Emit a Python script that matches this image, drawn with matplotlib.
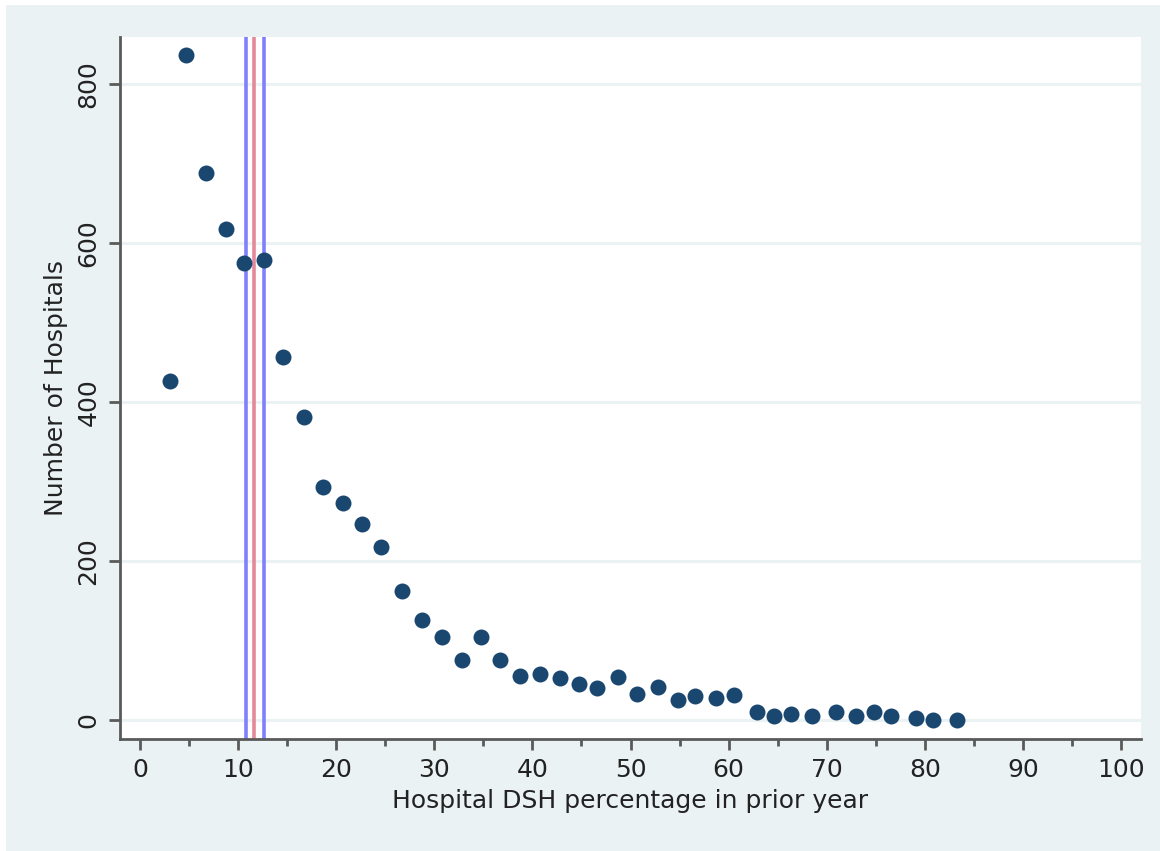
import matplotlib.pyplot as plt
from matplotlib.patches import Rectangle

# Hospitals binned by prior-year DSH percentage
dsh_pct = [3.1, 4.7, 6.7, 8.8, 10.6, 12.6, 14.6, 16.7, 18.7, 20.7,
           22.6, 24.6, 26.7, 28.7, 30.8, 32.8, 34.8, 36.7, 38.7, 40.8,
           42.8, 44.8, 46.6, 48.7, 50.7, 52.8, 54.8, 56.6, 58.7, 60.6,
           62.9, 64.6, 66.4, 68.5, 70.9, 73.0, 74.8, 76.6, 79.1, 80.8,
           83.3]
n_hosp = [426, 837, 688, 618, 575, 578, 456, 381, 293, 273,
          247, 217, 162, 126, 105, 76, 104, 76, 55, 58,
          53, 45, 40, 54, 33, 41, 25, 30, 28, 31,
          10, 5, 8, 5, 10, 5, 10, 5, 2, 0,
          0]

# reference lines: lower bound, threshold, upper bound
ref_lines = [10.8, 11.6, 12.65]
ref_colors = ['#8080ff', '#e5889a', '#8080ff']

xticks = list(range(0, 101, 10))
xminor = list(range(5, 100, 10))
yticks = [0, 200, 400, 600, 800]

BG = '#eaf2f3'
NAVY = '#1a476f'
AXC = '#5a5a5a'
FS = 18

plt.rcParams['font.family'] = ['DejaVu Sans']

fig = plt.figure(figsize=(11.6, 8.51), dpi=100, facecolor='white')
fig.patches.append(Rectangle((6 / 1160, 0), 1 - 6 / 1160, 1 - 5 / 851,
                             transform=fig.transFigure, facecolor=BG,
                             edgecolor='none', zorder=-10))

ax = fig.add_axes([120 / 1160, 1 - 739 / 851, 1021 / 1160, 702.5 / 851])
ax.set_facecolor('white')

for y in yticks:
    ax.axhline(y, color=BG, lw=2.2, zorder=0)

for x, c in zip(ref_lines, ref_colors):
    ax.axvline(x, color=c, lw=2.6, zorder=1)

ax.plot(dsh_pct, n_hosp, linestyle='none', marker='o', ms=11.5,
        mew=0, color=NAVY, zorder=3)

ax.set_xlim(-2.04, 102.04)
ax.set_ylim(-23.9, 859.7)

ax.set_xticks(xticks)
ax.set_xticks(xminor, minor=True)
ax.set_yticks(yticks)
ax.tick_params(axis='both', which='major', length=8, width=2, color=AXC,
               labelsize=FS, labelcolor='#222222', pad=6)
ax.tick_params(axis='x', which='minor', length=5, width=2, color=AXC)
ax.tick_params(axis='y', labelrotation=90)
for lbl in ax.get_yticklabels():
    lbl.set_va('center')

for side in ['top', 'right']:
    ax.spines[side].set_visible(False)
for side in ['left', 'bottom']:
    ax.spines[side].set_color(AXC)
    ax.spines[side].set_linewidth(2)

ax.set_xlabel('Hospital DSH percentage in prior year', fontsize=FS,
              color='#222222')
ax.set_ylabel('Number of Hospitals', fontsize=FS, color='#222222')
ax.xaxis.set_label_coords(0.5, -(789 - 739) / 702.5)
ax.yaxis.set_label_coords(-(120 - 68) / 1021, 0.5)
ax.xaxis.label.set_va('top')

fig.savefig('out.png', dpi=100, facecolor=fig.get_facecolor())
